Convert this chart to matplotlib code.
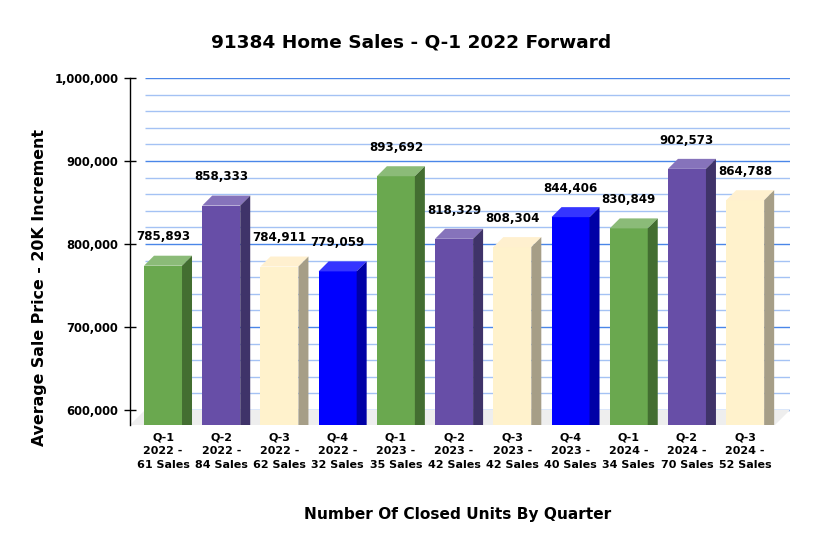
import matplotlib
matplotlib.use("Agg")
import matplotlib.pyplot as plt
from matplotlib.patches import Polygon
from matplotlib.ticker import FuncFormatter

# chart data
quarters = ["Q-1", "Q-2", "Q-3", "Q-4", "Q-1", "Q-2", "Q-3", "Q-4", "Q-1", "Q-2", "Q-3"]
years = ["2022", "2022", "2022", "2022", "2023", "2023", "2023", "2023", "2024", "2024", "2024"]
sales = [61, 84, 62, 32, 35, 42, 42, 40, 34, 70, 52]
avg_price = [785893, 858333, 784911, 779059, 893692, 818329, 808304, 844406, 830849, 902573, 864788]

# front / side / top colour per quarter
palette = {
    "Q-1": ("#6aa84f", "#436e31", "#8bbb78"),
    "Q-2": ("#674ea7", "#3f3369", "#8673bb"),
    "Q-3": ("#fff2cc", "#a69e87", "#fff0cf"),
    "Q-4": ("#0000ff", "#0000a6", "#3535ff"),
}

W, H = 817, 553
fig = plt.figure(figsize=(W / 100, H / 100), dpi=100)
ax_l, ax_r, ax_t, ax_b = 130, 790, 78, 425
ax = fig.add_axes([ax_l / W, 1 - ax_b / H, (ax_r - ax_l) / W, (ax_b - ax_t) / H])

ymin, ymax = 581928, 1000000
xmin, xmax = -0.567, 10.77
ax.set_xlim(xmin, xmax)
ax.set_ylim(ymin, ymax)

# pixel -> data conversion for the fake 3D depth
ux = (xmax - xmin) / (ax_r - ax_l)
uy = (ymax - ymin) / (ax_b - ax_t)
floor_dx, floor_dy = 15 * ux, 15 * uy
bar_dx, bar_dy = 10 * ux, 10 * uy
bar_w = 38 * ux

# back wall grid, 20K steps
for v in range(600000, 1000001, 20000):
    major = v % 100000 == 0
    ax.hlines(v, xmin + floor_dx, xmax, color="#4a86e8" if major else "#a4c2f4",
              lw=1.0, zorder=0)

# floor
floor = Polygon([(xmin, ymin), (xmin + floor_dx, ymin + floor_dy),
                 (xmax, ymin + floor_dy), (xmax - floor_dx, ymin)],
                closed=True, fc="#eeeeee", ec="none", zorder=1)
ax.add_patch(floor)

xs = list(range(len(avg_price)))
for x, v, q in zip(xs, avg_price, quarters):
    front, side, top = palette[q]
    ftop = v - bar_dy
    ax.bar(x, ftop - ymin, bottom=ymin, width=bar_w, color=front, zorder=3)
    l, r = x - bar_w / 2, x + bar_w / 2
    ax.add_patch(Polygon([(l, ftop), (r, ftop), (r + bar_dx, v), (l + bar_dx, v)],
                         closed=True, fc=top, ec="none", zorder=3))
    ax.add_patch(Polygon([(r, ftop), (r + bar_dx, v), (r + bar_dx, ymin), (r, ymin)],
                         closed=True, fc=side, ec="none", zorder=3))
    ax.annotate(f"{v:,}", (x, v), xytext=(0, 13.5), textcoords="offset points",
                ha="center", va="center", fontsize=8.6, fontweight="bold", zorder=5)

for s in ["top", "right", "bottom"]:
    ax.spines[s].set_visible(False)
ax.spines["left"].set_linewidth(1.0)

ax.set_yticks(range(600000, 1000001, 100000))
ax.yaxis.set_major_formatter(FuncFormatter(lambda v, p: f"{int(v):,}"))
ax.tick_params(axis="y", direction="inout", length=8.6, width=1, pad=4,
               labelsize=8.3)
for t in ax.get_yticklabels():
    t.set_fontweight("bold")

ax.set_xticks(xs, [f"{q}\n{y} -\n{n} Sales" for q, y, n in zip(quarters, years, sales)])
ax.tick_params(axis="x", length=0, pad=5.5, labelsize=8)
for t in ax.get_xticklabels():
    t.set_fontweight("bold")
    t.set_linespacing(1.45)

fig.text(411 / W, 1 - 42 / H, "91384 Home Sales - Q-1 2022 Forward",
         ha="center", va="center", fontsize=13.3, fontweight="bold")
fig.text(40 / W, 1 - 288 / H, "Average Sale Price - 20K Increment", rotation=90,
         ha="center", va="center", fontsize=11.4, fontweight="bold")
fig.text(458 / W, 1 - 515 / H, "Number Of Closed Units By Quarter",
         ha="center", va="center", fontsize=11.1, fontweight="bold")

fig.savefig("out.png", dpi=100)
